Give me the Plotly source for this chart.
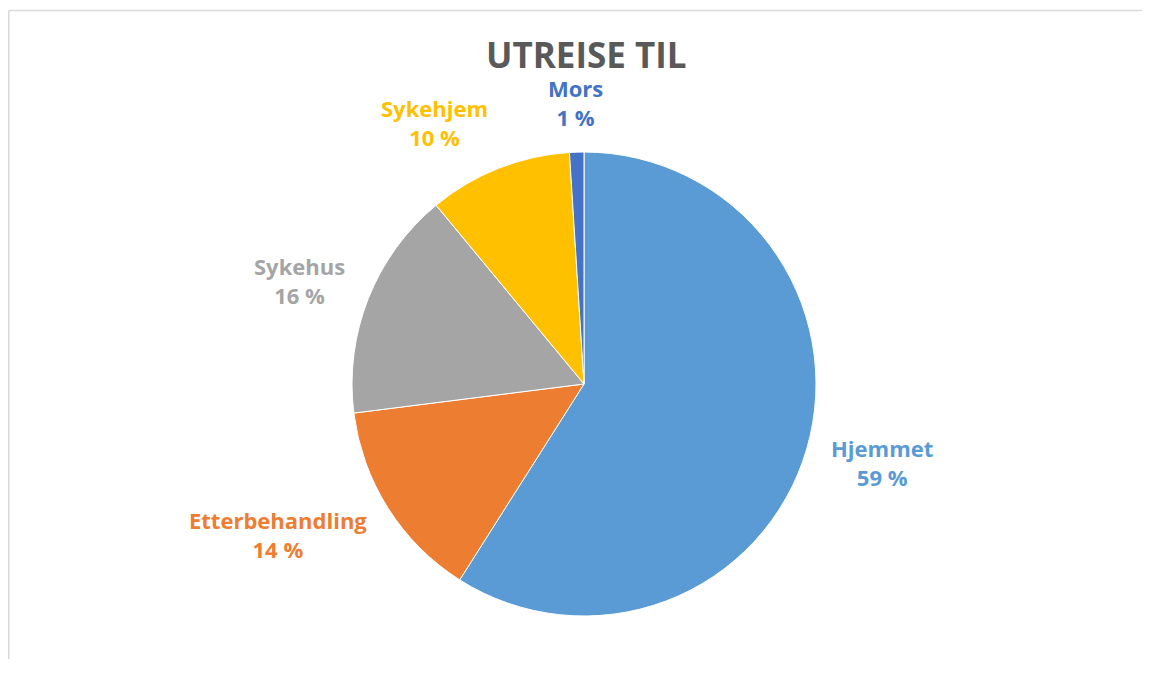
import math
import plotly.graph_objects as go

# ---- data ----
labels = ["Hjemmet", "Etterbehandling", "Sykehus", "Sykehjem", "Mors"]
values = [59, 14, 16, 10, 1]
colors = ["#5B9BD5", "#ED7D31", "#A5A5A5", "#FFC000", "#4472C4"]
title_text = "UTREISE TIL"

# page has an 8px body margin; figure sized to fit inside the 1150x673 window
OFF = 8
W, H = 1150 - 2 * OFF, 673 - 2 * OFF - 6
FONT = "Open Sans"

# pie geometry in page pixels -> figure pixels
cx, cy, R = 584 - OFF, 384 - OFF, 232

fig = go.Figure(go.Pie(
    labels=labels,
    values=values,
    marker=dict(colors=colors, line=dict(color="white", width=1)),
    sort=False,
    direction="clockwise",
    rotation=0,
    textinfo="none",
    hoverinfo="label+percent",
    showlegend=False,
    domain=dict(x=[(cx - R) / W, (cx + R) / W],
                y=[(H - cy - R) / H, (H - cy + R) / H]),
))

# labels placed outside each slice, computed from the data
total = sum(values)
annotations = []
cum = 0.0
d = R * 1.1      # distance of label anchor from centre
hh = 26          # half height of a two-line label
for lab, v, col in zip(labels, values, colors):
    mid = (cum + v / 2) / total * 2 * math.pi
    cum += v
    sx, sy = math.sin(mid), math.cos(mid)
    px = cx + d * sx
    py = cy - (d + hh) * sy
    xa = "center" if abs(sx) < 0.3 else ("left" if sx > 0 else "right")
    pct = round(v / total * 100)
    annotations.append(dict(
        x=px / W, y=1 - py / H, xref="paper", yref="paper",
        xanchor=xa, yanchor="middle", showarrow=False, align="center",
        text=f"<b>{lab}<br>{pct} %</b>",
        font=dict(family=FONT, size=22, color=col),
    ))

annotations.append(dict(
    x=(586 - OFF) / W, y=1 - (55 - OFF) / H, xref="paper", yref="paper",
    xanchor="center", yanchor="middle", showarrow=False,
    text=f"<b>{title_text}</b>",
    font=dict(family=FONT, size=35, color="#595959"),
))

border = dict(color="#D9D9D9", width=1.5)
fig.update_layout(
    width=W, height=H,
    margin=dict(l=0, r=0, t=0, b=0),
    paper_bgcolor="white",
    plot_bgcolor="white",
    annotations=annotations,
    shapes=[
        dict(type="line", xref="paper", yref="paper",
             x0=0.75 / W, x1=0.75 / W, y0=0, y1=1 - 2.5 / H, line=border),
        dict(type="line", xref="paper", yref="paper",
             x0=0.75 / W, x1=1, y0=1 - 2.5 / H, y1=1 - 2.5 / H, line=border),
    ],
)

fig.write_html("out.html")
